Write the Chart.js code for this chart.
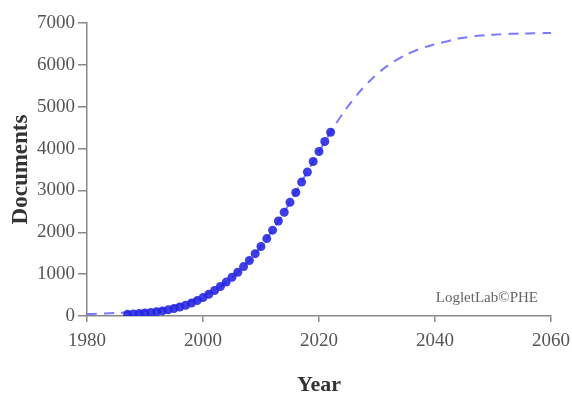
<!DOCTYPE html>
<html>
<head>
<meta charset="utf-8">
<script src="https://cdn.jsdelivr.net/npm/chart.js@4"></script>
<style>
  body { margin: 0; background: #fff; }
  canvas { display: block; }
</style>
</head>
<body>
<canvas id="chart" width="572" height="393"></canvas>
<script>
'use strict';

// ------------------------------- Data ------------------------------//
const obsYears = [1987, 1988, 1989, 1990, 1991, 1992, 1993, 1994, 1995, 1996, 1997, 1998,
  1999, 2000, 2001, 2002, 2003, 2004, 2005, 2006, 2007, 2008, 2009, 2010, 2011, 2012,
  2013, 2014, 2015, 2016, 2017, 2018, 2019, 2020, 2021, 2022];
const obsDocs = [40, 50, 60, 72, 85, 102, 122, 147, 178, 215, 258, 308,
  368, 440, 520, 608, 705, 810, 925, 1045, 1180, 1325, 1490, 1660, 1850, 2050,
  2270, 2480, 2715, 2950, 3200, 3440, 3690, 3930, 4170, 4390];

const fitYears = [1980, 1982, 1984, 1986, 1988, 1990, 1992, 1994, 1996, 1998, 2000, 2002,
  2004, 2006, 2008, 2010, 2012, 2014, 2016, 2018, 2020, 2022, 2024, 2026, 2028, 2030,
  2032, 2034, 2036, 2038, 2040, 2042, 2044, 2046, 2048, 2050, 2052, 2054, 2056, 2058, 2060];
const fitDocs = [45, 55, 65, 80, 95, 119, 158, 210, 278, 365, 479, 626,
  811, 1043, 1324, 1662, 2052, 2482, 2960, 3444, 3927, 4389, 4815, 5188, 5510, 5779,
  5995, 6168, 6304, 6411, 6493, 6560, 6630, 6670, 6700, 6720, 6735, 6745, 6752, 6757, 6760];

const xTicks = [1980, 2000, 2020, 2040, 2060];
const yTicks = [0, 1000, 2000, 3000, 4000, 5000, 6000, 7000];

// ------------------------------- Helpers ------------------------------//
function toPoints(xs, ys) {
  let pts = [];
  for (let i = 0; i < xs.length; i++) {
    pts.push({ x: xs[i], y: ys[i] });
  }
  return pts;
}

const watermark = {
  id: 'watermark',
  afterDraw(chart) {
    const ctx = chart.ctx;
    const area = chart.chartArea;
    ctx.save();
    ctx.font = "15px 'Liberation Serif', serif";
    ctx.fillStyle = '#666';
    ctx.textAlign = 'right';
    ctx.textBaseline = 'middle';
    ctx.fillText('LogletLab\u00A9PHE', area.right - 13, area.bottom - 18);
    ctx.restore();
  }
};

// ------------------------------- Chart ------------------------------//
Chart.defaults.font.family = "'Liberation Serif', 'Times New Roman', serif";
Chart.defaults.color = '#555';

const axisColor = '#888';

new Chart(document.getElementById('chart').getContext('2d'), {
  type: 'scatter',
  data: {
    datasets: [{
      label: 'Fit',
      type: 'line',
      data: toPoints(fitYears, fitDocs),
      borderColor: 'rgba(115,115,255,0.95)',
      borderWidth: 2,
      borderDash: [10, 7],
      pointRadius: 0,
      tension: 0.4,
      fill: false,
      order: 2
    }, {
      label: 'Documents',
      data: toPoints(obsYears, obsDocs),
      backgroundColor: 'rgba(35,35,225,0.88)',
      borderWidth: 0,
      pointRadius: 4.5,
      order: 1
    }]
  },
  options: {
    responsive: false,
    animation: false,
    devicePixelRatio: 1,
    layout: {
      padding: { top: 23, right: 21, bottom: 0, left: 10 }
    },
    plugins: {
      legend: { display: false },
      tooltip: { enabled: false }
    },
    scales: {
      x: {
        type: 'linear',
        min: 1980,
        max: 2060,
        afterBuildTicks(scale) {
          scale.ticks = xTicks.map(v => ({ value: v }));
        },
        afterFit(scale) {
          scale.height = 77;
          scale.paddingLeft = 0;
          scale.paddingRight = 0;
        },
        ticks: {
          font: { size: 19 },
          padding: 8,
          maxRotation: 0,
          callback: v => String(v)
        },
        grid: { drawOnChartArea: false, tickLength: 6, color: axisColor, lineWidth: 1.5 },
        border: { color: axisColor, width: 1.5 },
        title: {
          display: true,
          text: 'Year',
          color: '#333',
          font: { size: 22, weight: 'bold', lineHeight: 0.7 },
          padding: 0
        }
      },
      y: {
        min: 0,
        max: 7000,
        afterBuildTicks(scale) {
          scale.ticks = yTicks.map(v => ({ value: v }));
        },
        afterFit(scale) {
          scale.width = 77;
        },
        ticks: {
          font: { size: 19 },
          padding: 3,
          callback: v => String(v)
        },
        grid: { drawOnChartArea: false, tickLength: 9, color: axisColor, lineWidth: 1.5 },
        border: { color: axisColor, width: 1.5 },
        title: {
          display: true,
          text: 'Documents',
          color: '#333',
          font: { size: 23, weight: 'bold', lineHeight: 1 },
          padding: 0
        }
      }
    }
  },
  plugins: [watermark]
});
</script>
</body>
</html>
